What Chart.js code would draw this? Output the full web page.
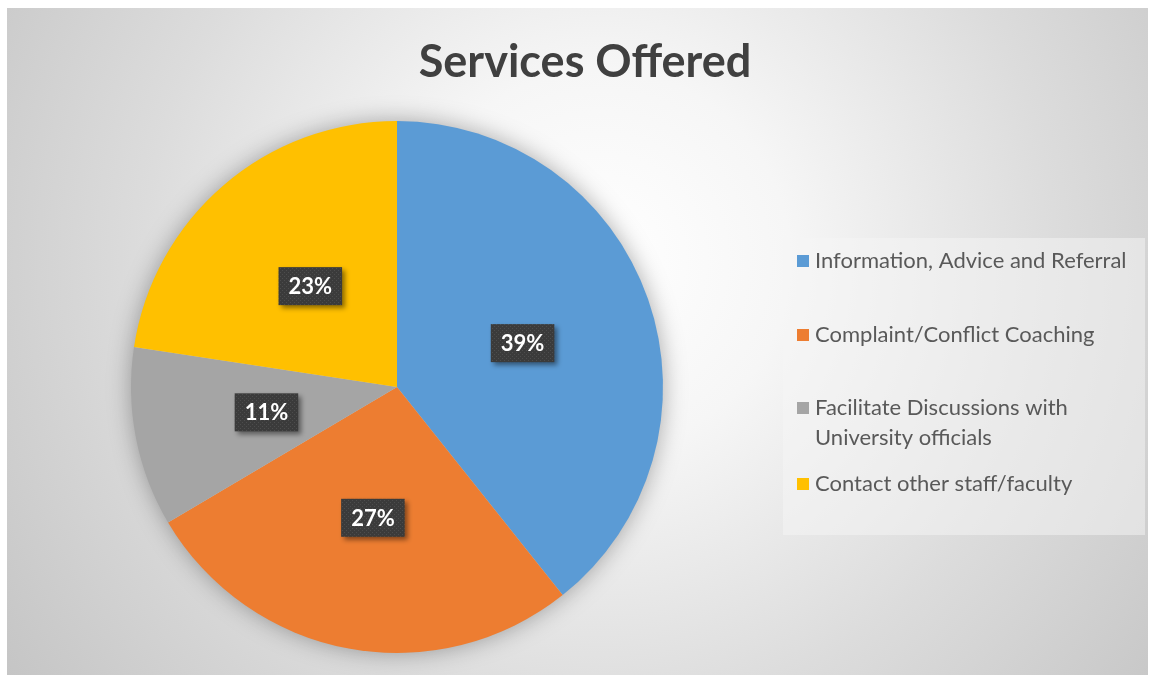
<!DOCTYPE html>
<html>
<head>
<meta charset="utf-8">
<title>Services Offered</title>
<script src="https://cdn.jsdelivr.net/npm/chart.js@4.4.1/dist/chart.umd.min.js"></script>
<style>
  body { margin: 0; background: #ffffff; }
  canvas { display: block; }
</style>
</head>
<body>
<canvas id="myChart" width="1150" height="675"></canvas>
<script>
// Data of the chart (shares, labels show them rounded)
const titulo = 'Services Offered';
const categorias = [
    'Information, Advice and Referral',
    'Complaint/Conflict Coaching',
    'Facilitate Discussions with University officials',
    'Contact other staff/faculty'
];
const porcentajes = [39.3, 27.2, 10.9, 22.6];
const colores = ['#5b9bd5', '#ed7d31', '#a5a5a5', '#ffc000'];

// Background with radial gradient and the white margin
const fondo = {
    id: 'fondo',
    beforeDraw(chart) {
        const ctx = chart.ctx;
        ctx.save();
        ctx.fillStyle = '#ffffff';
        ctx.fillRect(0, 0, chart.width, chart.height);
        const g = ctx.createRadialGradient(600, 260, 0, 600, 260, 760);
        g.addColorStop(0, '#ffffff');
        g.addColorStop(0.25, '#f6f6f6');
        g.addColorStop(0.6, '#dcdcdc');
        g.addColorStop(1, '#c2c2c2');
        ctx.fillStyle = g;
        ctx.fillRect(7, 8, 1141, 667);

        // title
        ctx.fillStyle = '#404040';
        ctx.font = 'bold 45px Lato';
        ctx.textAlign = 'center';
        ctx.textBaseline = 'alphabetic';
        ctx.fillText(titulo, 585, 77);
        ctx.restore();
    },
    // soft shadow round the pie
    beforeDatasetsDraw(chart) {
        const arc = chart.getDatasetMeta(0).data[0];
        if (!arc) return;
        const ctx = chart.ctx;
        ctx.save();
        ctx.shadowColor = 'rgba(0,0,0,0.35)';
        ctx.shadowBlur = 24;
        ctx.fillStyle = '#cccccc';
        ctx.beginPath();
        ctx.arc(arc.x, arc.y, arc.outerRadius - 1, 0, Math.PI * 2);
        ctx.fill();
        ctx.restore();
    }
};

// Dotted dark pattern for the label boxes
function patronEtiqueta(ctx) {
    const c = document.createElement('canvas');
    c.width = 4;
    c.height = 4;
    const p = c.getContext('2d');
    p.fillStyle = '#3b3b3b';
    p.fillRect(0, 0, 4, 4);
    p.fillStyle = '#4d4d4d';
    p.fillRect(0, 0, 1, 1);
    p.fillRect(2, 2, 1, 1);
    return ctx.createPattern(c, 'repeat');
}

// Percent labels inside the slices
const etiquetas = {
    id: 'etiquetas',
    afterDatasetsDraw(chart) {
        const ctx = chart.ctx;
        const meta = chart.getDatasetMeta(0);
        const patron = patronEtiqueta(ctx);
        ctx.save();
        ctx.font = 'bold 22px Lato';
        ctx.textAlign = 'center';
        ctx.textBaseline = 'middle';
        meta.data.forEach((arc, i) => {
            const pos = arc.tooltipPosition();
            const texto = Math.round(chart.data.datasets[0].data[i]) + '%';
            const w = ctx.measureText(texto).width + 20;
            const h = 38;
            ctx.save();
            ctx.shadowColor = 'rgba(0,0,0,0.45)';
            ctx.shadowBlur = 5;
            ctx.shadowOffsetX = 3;
            ctx.shadowOffsetY = 3;
            ctx.fillStyle = patron;
            ctx.fillRect(pos.x - w / 2, pos.y - h / 2, w, h);
            ctx.restore();
            ctx.fillStyle = '#ffffff';
            ctx.fillText(texto, pos.x, pos.y + 1);
        });
        ctx.restore();
    }
};

// Legend on the right, with wrapped text
const leyenda = {
    id: 'leyenda',
    afterDraw(chart) {
        const ctx = chart.ctx;
        const filas = [261, 335, 408, 484];
        ctx.save();
        ctx.fillStyle = 'rgba(245,245,245,0.5)';
        ctx.fillRect(783, 238, 362, 297);
        ctx.font = '22px Lato';
        ctx.textBaseline = 'middle';
        chart.data.labels.forEach((label, i) => {
            // split into lines
            const palabras = label.split(' ');
            const lineas = [];
            let linea = '';
            palabras.forEach(p => {
                const prueba = linea ? linea + ' ' + p : p;
                if (ctx.measureText(prueba).width > 322 && linea) {
                    lineas.push(linea);
                    linea = p;
                } else {
                    linea = prueba;
                }
            });
            lineas.push(linea);

            const y = filas[i];
            ctx.fillStyle = chart.data.datasets[0].backgroundColor[i];
            ctx.fillRect(797, y - 6, 12, 12);
            ctx.fillStyle = '#595959';
            lineas.forEach((l, j) => {
                ctx.fillText(l, 815, y + j * 30);
            });
        });
        ctx.restore();
    }
};

const ctx = document.getElementById('myChart');

new Chart(ctx, {
    type: 'pie',
    data: {
        labels: categorias,
        datasets: [{
            data: porcentajes,
            backgroundColor: colores,
            borderWidth: 0
        }]
    },
    options: {
        responsive: false,
        animation: false,
        events: [],
        layout: {
            padding: { left: 131, right: 487, top: 121, bottom: 22 }
        },
        plugins: {
            legend: { display: false },
            title: { display: false },
            tooltip: { enabled: false }
        }
    },
    plugins: [fondo, etiquetas, leyenda]
});
</script>
</body>
</html>
